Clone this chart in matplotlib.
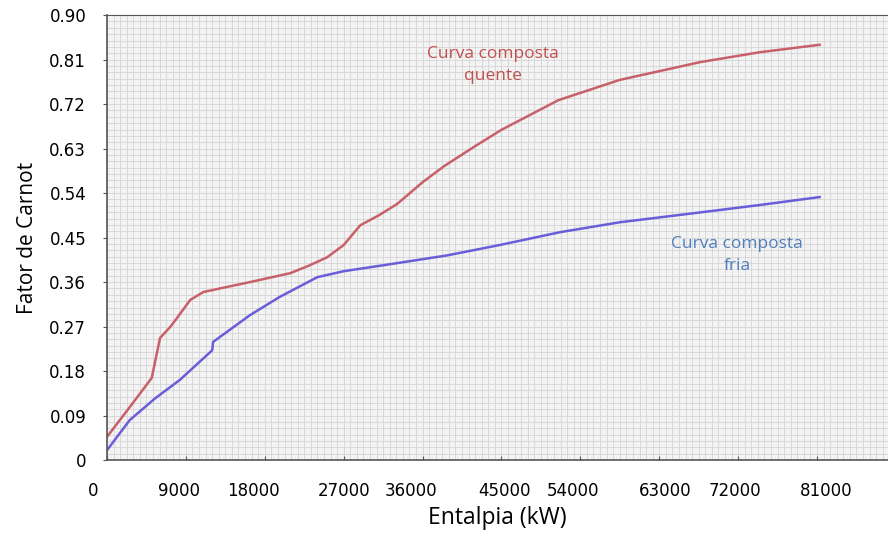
import numpy as np
import matplotlib.pyplot as plt
import matplotlib.transforms as mtransforms
from matplotlib.ticker import MultipleLocator

# Curva composta quente (vermelha)
x_quente = [0, 2500, 5100, 6050, 7200, 7800, 9500, 11000, 16300, 20900,
            23000, 25100, 27000, 28900, 31000, 33100, 36000, 38500, 42000,
            45000, 51500, 58500, 67700, 74500, 81300]
y_quente = [0.047, 0.105, 0.166, 0.247, 0.269, 0.283, 0.324, 0.340, 0.360, 0.378,
            0.393, 0.410, 0.435, 0.475, 0.495, 0.518, 0.562, 0.595, 0.635,
            0.668, 0.728, 0.769, 0.805, 0.825, 0.840]

# Curva composta fria (azul)
x_fria = [0, 2600, 5500, 8300, 12000, 12100, 16300, 19700, 24000, 27000,
          31500, 38800, 44800, 51700, 58500, 67700, 74500, 81300]
y_fria = [0.020, 0.081, 0.125, 0.162, 0.222, 0.239, 0.293, 0.330, 0.370, 0.382,
          0.394, 0.414, 0.435, 0.461, 0.481, 0.501, 0.516, 0.532]

xticks = [0, 9000, 18000, 27000, 36000, 45000, 54000, 63000, 72000, 81000]
xtick_labels = ['0', '9000', '18000', '27000', '36000', '45000',
                '54000', '63000', '72000', '81000']
yticks = [0, 0.09, 0.18, 0.27, 0.36, 0.45, 0.54, 0.63, 0.72, 0.81, 0.90]
ytick_labels = ['0', '0.09', '0.18', '0.27', '0.36', '0.45', '0.54',
                '0.63', '0.72', '0.81', '0.90']

# deslocamento horizontal (px) dos rótulos em relação às marcas
label_shift = [-14, -7, -11, 0, -12, 3, -7, 6, -3, 9]

fig = plt.figure(figsize=(8.88, 5.4), dpi=100)
ax = fig.add_axes([0.1205, 0.148, 0.8795, 0.824])
ax.set_facecolor('#f3f3f3')

ax.plot(x_quente, y_quente, color='#c8606a', lw=1.8)
ax.plot(x_fria, y_fria, color='#6a5ed8', lw=1.8)

# grade fina
ax.xaxis.set_minor_locator(MultipleLocator(750))
ax.yaxis.set_minor_locator(MultipleLocator(0.09 / 7))
ax.grid(which='both', color='#d4d4d4', lw=0.6)
ax.set_axisbelow(True)

ax.set_xticks(xticks, xtick_labels)
ax.set_yticks(yticks, ytick_labels)
ax.tick_params(axis='x', which='major', length=3, direction='in', pad=16,
               labelsize=12, color='#555555')
ax.tick_params(axis='y', which='major', length=3, pad=12, labelsize=12, color='#555555')
ax.tick_params(which='minor', length=0)
for lab, dx in zip(ax.get_xticklabels(), label_shift):
    lab.set_transform(lab.get_transform() +
                      mtransforms.ScaledTranslation(dx / 100, 0, fig.dpi_scale_trans))

ax.set_xlim(0, 89100)
ax.set_ylim(0, 0.90)

for s in ['left', 'bottom']:
    ax.spines[s].set_color('#555555')
    ax.spines[s].set_linewidth(1.2)
ax.spines['top'].set_color('#555555')
ax.spines['top'].set_linestyle((0, (2, 1)))
ax.spines['right'].set_visible(False)

ax.set_xlabel('Entalpia (kW)', fontsize=16.5, family='Open Sans', labelpad=4)
ax.set_ylabel('Fator de Carnot', fontsize=15, family='Open Sans', labelpad=8)

ax.text(44000, 0.799, 'Curva composta\nquente', color='#c0504d', fontsize=12.5,
        family='Open Sans', ha='center', va='center', linespacing=1.5)
ax.text(71900, 0.4145, 'Curva composta\nfria', color='#4f7fbd', fontsize=12.5,
        family='Open Sans', ha='center', va='center', linespacing=1.5)

fig.savefig('out.png', dpi=100)
